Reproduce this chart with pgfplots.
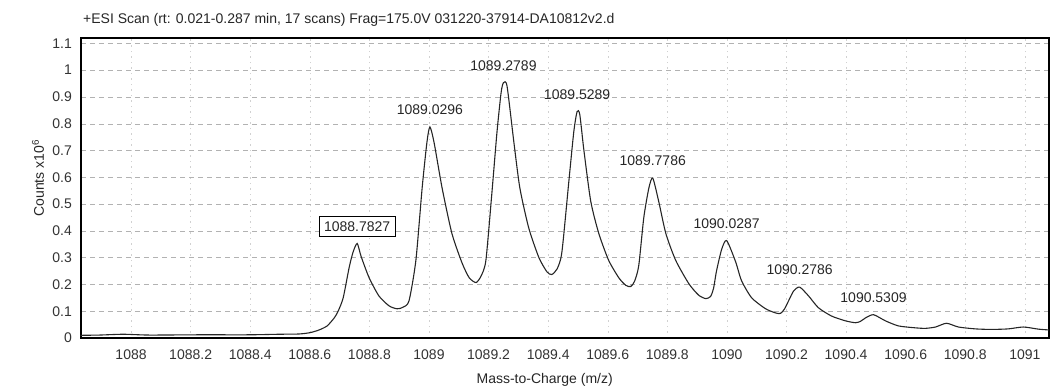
\documentclass[border=0pt]{standalone}
\usepackage{fontspec}
\setmainfont{Liberation Sans}
\usepackage{pgfplots}
\usepackage{pgfplotstable}
\pgfplotsset{compat=1.18}
\pgfplotstableread{
x y
1087.830 0.010
1087.894 0.011
1087.974 0.014
1088.061 0.011
1088.229 0.012
1088.397 0.012
1088.497 0.014
1088.564 0.015
1088.601 0.020
1088.631 0.030
1088.658 0.045
1088.682 0.075
1088.695 0.100
1088.712 0.150
1088.732 0.263
1088.745 0.320
1088.759 0.353
1088.772 0.305
1088.799 0.225
1088.832 0.157
1088.866 0.120
1088.893 0.109
1088.913 0.115
1088.933 0.139
1088.956 0.290
1088.977 0.560
1088.993 0.730
1089.003 0.788
1089.017 0.730
1089.044 0.560
1089.077 0.390
1089.111 0.280
1089.135 0.225
1089.158 0.207
1089.175 0.232
1089.191 0.290
1089.211 0.540
1089.228 0.766
1089.242 0.916
1089.250 0.953
1089.262 0.940
1089.285 0.730
1089.305 0.560
1089.335 0.410
1089.369 0.300
1089.396 0.247
1089.412 0.237
1089.430 0.258
1089.446 0.320
1089.469 0.580
1089.486 0.770
1089.497 0.845
1089.506 0.835
1089.520 0.700
1089.543 0.510
1089.570 0.390
1089.603 0.290
1089.637 0.225
1089.660 0.197
1089.677 0.192
1089.690 0.212
1089.704 0.270
1089.721 0.450
1089.738 0.560
1089.751 0.597
1089.771 0.510
1089.795 0.390
1089.828 0.290
1089.872 0.203
1089.905 0.160
1089.929 0.147
1089.945 0.155
1089.955 0.185
1089.965 0.250
1089.982 0.330
1089.999 0.364
1090.029 0.285
1090.049 0.214
1090.083 0.150
1090.130 0.109
1090.165 0.093
1090.180 0.092
1090.193 0.108
1090.207 0.139
1090.224 0.176
1090.244 0.190
1090.274 0.157
1090.307 0.113
1090.351 0.082
1090.398 0.064
1090.431 0.057
1090.448 0.062
1090.465 0.075
1090.492 0.087
1090.532 0.064
1090.576 0.045
1090.632 0.038
1090.666 0.036
1090.700 0.041
1090.737 0.055
1090.777 0.041
1090.834 0.034
1090.887 0.032
1090.944 0.034
1090.995 0.041
1091.046 0.033
1091.081 0.030
}\spectrum
\pgfplotstableread{
x y label
1089.003 0.788 1089.0296
1089.250 0.953 1089.2789
1089.497 0.845 1089.5289
1089.751 0.597 1089.7786
1089.999 0.364 1090.0287
1090.244 0.190 1090.2786
1090.492 0.087 1090.5309
}\peaks
\pgfplotstableread{
x y label
1088.759 0.353 1088.7827
}\boxpeak
\begin{document}
\begin{tikzpicture}[font=\fontsize{14}{16}\selectfont]
\useasboundingbox (-81pt,-51pt) rectangle (969pt,338pt);
\begin{axis}[
  at={(0pt,0pt)}, anchor=south west,
  scale only axis, width=968pt, height=300pt,
  xmin=1087.832, xmax=1091.081, ymin=0, ymax=1.12,
  axis line style={black, line width=1.4pt},
  xtick={1088,1088.2,1088.4,1088.6,1088.8,1089,1089.2,1089.4,1089.6,1089.8,1090,1090.2,1090.4,1090.6,1090.8,1091},
  xticklabels={1088,1088.2,1088.4,1088.6,1088.8,1089,1089.2,1089.4,1089.6,1089.8,1090,1090.2,1090.4,1090.6,1090.8,1091},
  ytick={0,0.1,0.2,0.3,0.4,0.5,0.6,0.7,0.8,0.9,1,1.1},
  yticklabels={0,0.1,0.2,0.3,0.4,0.5,0.6,0.7,0.8,0.9,1,1.1},
  major tick length=0pt,
  xticklabel style={anchor=north, inner sep=0pt, yshift=-12pt, text=black!80},
  yticklabel style={anchor=east, inner sep=0pt, xshift=-9pt, text=black!80},
  grid=major,
  x grid style={black!18, dash pattern=on 1.5pt off 4pt},
  y grid style={black!30, dash pattern=on 5pt off 4pt},
  title={+ESI Scan (rt: 0.021-0.287 min, 17 scans) Frag=175.0V 031220-37914-DA10812v2.d},
  title style={at={(axis description cs:0,1)}, anchor=base west, xshift=2pt, yshift=8pt, inner sep=0pt, text=black!85},
  xlabel={Mass-to-Charge (m/z)},
  xlabel style={at={(axis description cs:0.479,-0.14)}, anchor=center, text=black!85},
  ylabel={Counts x10\textsuperscript{6}},
  ylabel style={at={(axis description cs:-0.0444,0.533)}, anchor=center, rotate=0, text=black!85},
  clip=false,
]
\addplot[black!85, line width=1.1pt, smooth, tension=0.4] table[x=x, y=y] {\spectrum};
\addplot[draw=none, mark=none, nodes near coords, point meta=explicit symbolic,
  every node near coord/.append style={anchor=center, yshift=17pt, inner sep=0pt, text=black!85}]
  table[x=x, y=y, meta=label] {\peaks};
\addplot[draw=none, mark=none, nodes near coords, point meta=explicit symbolic,
  every node near coord/.append style={anchor=center, yshift=17pt, draw=black, line width=0.8pt, fill=white, inner xsep=5pt, inner ysep=5pt, text=black!85}]
  table[x=x, y=y, meta=label] {\boxpeak};
\end{axis}
\end{tikzpicture}
\end{document}
